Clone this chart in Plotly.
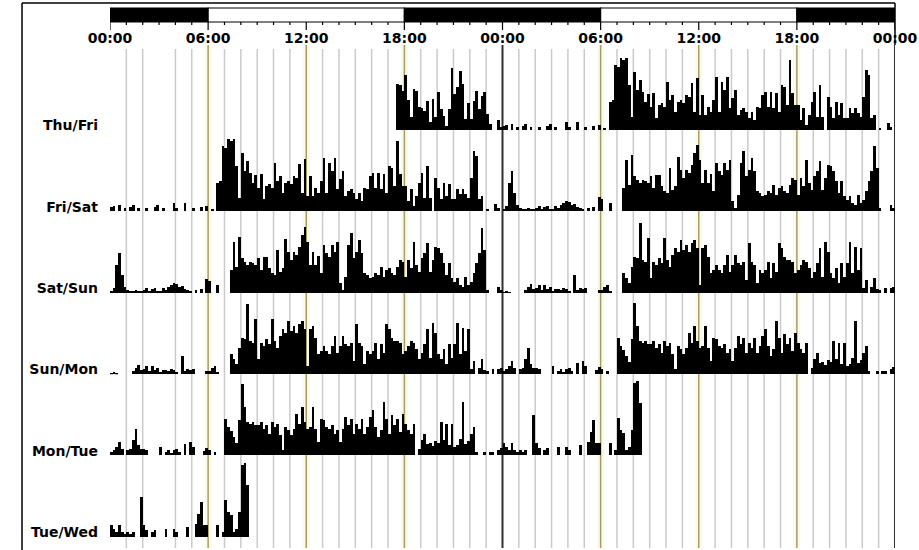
import plotly.graph_objects as go
from plotly.subplots import make_subplots

# ---------------- data ----------------
row_labels = ["Thu/Fri", "Fri/Sat", "Sat/Sun", "Sun/Mon", "Mon/Tue", "Tue/Wed"]
hour_ticks = [0, 6, 12, 18, 24, 30, 36, 42, 48]
hour_labels = ["00:00", "06:00", "12:00", "18:00", "00:00", "06:00", "12:00", "18:00", "00:00"]
bins_per_hour = 6            # 10-minute epochs

# Thursday recording starts at 17:30 (epoch 105 of the day)
thu_first_epoch = 105
thu = [46, 45, 39,
       55, 30, 13, 41, 39, 23,
       22, 19, 29, 8, 31, 13,
       38, 21, 14, 4, 21, 62,
       36, 43, 59, 46, 11, 27,
       11, 29, 39, 21, 34, 38,
       16, 6, 0, 0, 10, 3]

fri = [4, 5, 0, 6, 0, 3,
       0, 4, 6, 0, 3, 0,
       0, 3, 0, 0, 4, 6,
       0, 3, 0, 0, 0, 8,
       3, 0, 0, 8, 0, 0,
       3, 0, 0, 4, 0, 5,
       0, 2, 0, 28, 30, 65,
       63, 72, 70, 72, 45, 13,
       58, 40, 50, 38, 28, 36,
       23, 37, 12, 25, 27, 23,
       48, 30, 35, 18, 28, 30,
       27, 35, 33, 47, 18, 52,
       15, 35, 15, 23, 18, 30,
       53, 18, 48, 40, 53, 22,
       32, 40, 15, 20, 22, 18,
       12, 18, 10, 23, 22, 35,
       38, 23, 38, 22, 37, 18,
       45, 43, 25, 70, 37, 25,
       25, 10, 22, 5, 15, 28,
       38, 13, 45, 13, 0, 33,
       23, 12, 28, 15, 27, 12,
       12, 22, 17, 22, 17, 13,
       33, 60, 55, 12, 15, 0,
       2, 0, 0, 7, 3, 0]

sat = [2, 5, 28, 40, 18, 6,
       3, 2, 2, 3, 2, 2,
       3, 5, 2, 4, 5, 2,
       2, 5, 3, 6, 8, 10,
       9, 6, 7, 4, 3, 2,
       0, 3, 0, 4, 0, 14,
       12, 0, 0, 8, 0, 0,
       0, 0, 23, 51, 26, 56,
       35, 31, 28, 31, 30, 28,
       35, 23, 36, 36, 25, 20,
       18, 43, 21, 25, 54, 41,
       33, 41, 38, 46, 58, 66,
       51, 28, 41, 28, 37, 20,
       48, 40, 36, 48, 41, 51,
       10, 3, 16, 48, 60, 35,
       41, 53, 40, 20, 18, 15,
       16, 20, 18, 26, 16, 23,
       25, 20, 18, 26, 33, 31,
       16, 33, 25, 51, 28, 21,
       35, 40, 50, 21, 33, 46,
       45, 40, 30, 18, 30, 15,
       11, 15, 8, 6, 16, 8,
       11, 20, 30, 40, 65, 43,
       3, 0, 0, 0, 6, 3]

sun = [1, 2, 1, 0, 0, 0,
       0, 0, 3, 6, 9, 4,
       5, 8, 3, 8, 4, 6,
       2, 4, 4, 3, 5, 4,
       2, 0, 18, 3, 5, 4,
       5, 0, 0, 0, 0, 3,
       3, 6, 8, 2, 0, 0,
       0, 0, 20, 15, 10, 26,
       36, 35, 70, 33, 31, 55,
       15, 31, 28, 35, 30, 55,
       33, 26, 38, 45, 41, 53,
       43, 48, 41, 50, 53, 45,
       8, 45, 48, 36, 20, 23,
       28, 23, 20, 28, 38, 21,
       28, 38, 30, 28, 31, 13,
       50, 31, 28, 10, 23, 20,
       23, 31, 15, 30, 21, 50,
       45, 36, 33, 33, 31, 20,
       23, 28, 33, 31, 25, 15,
       21, 30, 45, 16, 51, 41,
       20, 15, 25, 10, 30, 16,
       30, 51, 20, 46, 23, 45,
       5, 13, 0, 6, 15, 4,
       3, 0, 5, 0, 5, 6]

mon = [3, 5, 8, 13, 6, 0,
       5, 6, 15, 26, 10, 6,
       6, 5, 0, 0, 0, 0,
       8, 0, 3, 5, 2, 5,
       6, 3, 0, 11, 0, 13,
       8, 0, 0, 0, 4, 7,
       5, 0, 3, 0, 0, 0,
       36, 28, 24, 18, 12, 35,
       71, 48, 33, 31, 33, 30,
       30, 33, 26, 30, 21, 33,
       28, 31, 20, 5, 28, 25,
       20, 26, 41, 31, 48, 33,
       26, 28, 48, 26, 13, 36,
       35, 28, 26, 30, 21, 25,
       13, 26, 38, 30, 36, 21,
       31, 26, 36, 21, 28, 38,
       45, 28, 18, 25, 53, 36,
       21, 40, 30, 36, 23, 41,
       31, 25, 21, 31, 0, 6,
       15, 21, 11, 12, 9, 14,
       12, 33, 15, 31, 10, 31,
       8, 10, 16, 53, 11, 14,
       21, 28, 3, 0, 0, 3,
       0, 3, 3, 0, 5, 7]

# Tuesday recording ends at 08:30
tue = [12, 8, 5, 12, 5, 3,
       5, 3, 5, 0, 0, 40,
       12, 7, 0, 5, 7, 0,
       0, 0, 8, 0, 0, 8,
       5, 0, 0, 0, 10, 0,
       0, 13, 23, 35, 12, 12,
       0, 0, 0, 12, 0, 5,
       37, 25, 22, 5, 8, 25,
       72, 74, 52]

# ---------------- figure ----------------
days = [(thu_first_epoch, thu), (0, fri), (0, sat), (0, sun), (0, mon), (0, tue)]
row_days = [(0, 1), (1, 2), (2, 3), (3, 4), (4, 5), (5, None)]

W, H = 919, 550
ML, MR, MT, MB = 110, 24, 49, 13
PW, PH = W - ML - MR, H - MT - MB


def py(px):
    return (H - MB - px) / PH


def pxx(px):
    return (px - ML) / PW


fig = make_subplots(rows=6, cols=1, vertical_spacing=0)

for r, pair in enumerate(row_days):
    xs, ys = [], []
    for half, d in enumerate(pair):
        if d is None:
            continue
        start, vals = days[d]
        for i, v in enumerate(vals):
            xs.append(half * 24 + (start + i + 0.5) / bins_per_hour)
            ys.append(v)
    fig.add_trace(go.Bar(x=xs, y=ys, width=1 / bins_per_hour,
                         marker=dict(color="black", line=dict(width=0)),
                         showlegend=False, hoverinfo="skip"),
                  row=r + 1, col=1)

label_font = dict(family="DejaVu Sans", size=14, color="black", weight="bold")

for r in range(6):
    xa = "xaxis" if r == 0 else f"xaxis{r+1}"
    ya = "yaxis" if r == 0 else f"yaxis{r+1}"
    xcfg = dict(range=[0, 48], showgrid=False, zeroline=False, showline=False,
                ticks="", fixedrange=True, automargin=False)
    if r == 0:
        xcfg.update(side="top", tickvals=hour_ticks, ticktext=hour_labels,
                    showticklabels=True, tickfont=label_font, ticklabelstandoff=2)
    else:
        xcfg.update(showticklabels=False)
    fig.layout[xa].update(**xcfg)
    fig.layout[ya].update(range=[0, 81], showgrid=False, zeroline=False, showline=False,
                          ticks="", tickvals=[5], ticktext=[row_labels[r]],
                          tickfont=label_font, ticklabelstandoff=11, fixedrange=True,
                          automargin=False)

shapes = []
# vertical hour grid
for h in range(1, 49):
    if h == 3:
        continue
    if h % 24 == 0:
        shapes.append(dict(type="line", xref="x", yref="paper", x0=h, x1=h,
                           y0=py(548), y1=py(45), line=dict(color="#303030", width=2),
                           layer="below"))
    elif h % 6 == 0:
        shapes.append(dict(type="line", xref="x", yref="paper", x0=h, x1=h,
                           y0=py(548), y1=py(45), line=dict(color="#fcfae6", width=7),
                           layer="below"))
        shapes.append(dict(type="line", xref="x", yref="paper", x0=h, x1=h,
                           y0=py(548), y1=py(45), line=dict(color="#a39d6e", width=1.5),
                           layer="below"))
    else:
        shapes.append(dict(type="line", xref="x", yref="paper", x0=h, x1=h,
                           y0=py(548), y1=py(49), line=dict(color="#cbcbcb", width=1.5),
                           layer="below"))

# light/dark bar
for x0, x1, dark in [(0, 6, True), (6, 18, False), (18, 30, True), (30, 42, False), (42, 48, True)]:
    shapes.append(dict(type="rect", xref="x", yref="paper", x0=x0, x1=x1,
                       y0=py(22), y1=py(8),
                       fillcolor="black" if dark else "white",
                       line=dict(color="black", width=1.2)))

# hour tick marks under the bar
for h in range(0, 49):
    shapes.append(dict(type="line", xref="x", yref="paper", x0=h, x1=h,
                       y0=py(30 if h % 6 == 0 else 25), y1=py(22),
                       line=dict(color="black", width=1.2)))

# frame
shapes.append(dict(type="line", xref="paper", yref="paper", x0=pxx(22), x1=pxx(22),
                   y0=py(550), y1=py(3), line=dict(color="black", width=1.5)))
shapes.append(dict(type="line", xref="paper", yref="paper", x0=pxx(22), x1=1,
                   y0=py(3), y1=py(3), line=dict(color="black", width=1.5)))
shapes.append(dict(type="line", xref="paper", yref="paper", x0=1, x1=1,
                   y0=py(45), y1=py(3), line=dict(color="black", width=1.5)))

fig.update_layout(width=W, height=H, margin=dict(l=ML, r=MR, t=MT, b=MB, autoexpand=False),
                  paper_bgcolor="white", plot_bgcolor="rgba(0,0,0,0)",
                  bargap=0, barmode="overlay", shapes=shapes, showlegend=False)

fig.write_html("out.html", config={"displayModeBar": False},
               post_script="document.body.style.margin='0';document.body.style.overflow='hidden';")
